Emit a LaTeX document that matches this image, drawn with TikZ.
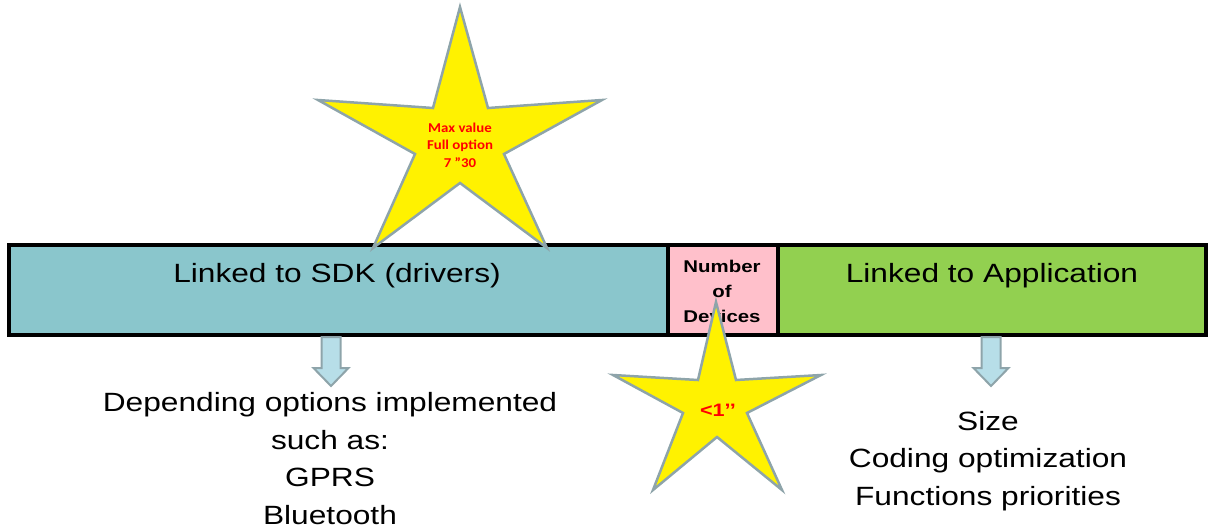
\documentclass[tikz,border=0pt]{standalone}
\usepackage{fontspec}
\setmainfont{Liberation Sans}
\newfontfamily\widefont[FakeStretch=1.2]{Liberation Sans}
\newfontfamily\starfont[FakeStretch=1.1]{Carlito}

\definecolor{sdkblue}{RGB}{138,198,204}
\definecolor{devpink}{RGB}{255,192,203}
\definecolor{appgreen}{RGB}{146,208,80}
\definecolor{starline}{RGB}{142,164,170}
\definecolor{arrowblue}{RGB}{183,222,232}

\tikzset{
  bar/.style={draw=black, line width=4pt},
  bartext/.style={font=\widefont\fontsize{26.4}{30}\selectfont, inner sep=0pt, anchor=base},
  devtext/.style={font=\widefont\bfseries\fontsize{17}{25}\selectfont, align=center, inner sep=0pt, anchor=north},
  desc/.style={font=\widefont\fontsize{26.4}{37.7}\selectfont, align=center, inner sep=0pt, anchor=north},
  downarrow/.style={draw=starline, fill=arrowblue, line width=2pt, line join=miter},
  starfill/.style={draw=starline, fill=yellow, line width=2.5pt, line join=miter},
  startext/.style={text=red, align=center, inner sep=0pt},
}

\begin{document}
\begin{tikzpicture}[x=1pt, y=-1pt]
  \useasboundingbox (0,0) rectangle (1208,531);

  % the bar
  \draw[bar, fill=sdkblue] (9,245) rectangle (667.5,335);
  \draw[bar, fill=devpink] (667.5,245) rectangle (778,335);
  \draw[bar, fill=appgreen] (778,245) rectangle (1206,335);

  \node[bartext] (sdk) at (337,282) {Linked to SDK (drivers)};
  \node[bartext] (app) at (992,282) {Linked to Application};
  \node[devtext] (dev) at (722,259.6) {Number\\of\\Devices};

  % arrows down to the descriptions
  \coordinate (sdkarrow) at (331,337);
  \coordinate (apparrow) at (991,337);
  \draw[downarrow] (sdkarrow) ++(-9.5,0) -- ++(0,31) -- ++(-8,0) -- ++(17.5,18) -- ++(17.5,-18) -- ++(-8,0) -- ++(0,-31) -- cycle;
  \draw[downarrow] (apparrow) ++(-9.5,0) -- ++(0,31) -- ++(-8,0) -- ++(17.5,18) -- ++(17.5,-18) -- ++(-8,0) -- ++(0,-31) -- cycle;

  \node[desc] (sdkdesc) at (330,392) {Depending options implemented\\such as:\\GPRS\\Bluetooth};
  \node[desc] (appdesc) at (988,410.7) {Size\\Coding optimization\\Functions priorities};

  % stars
  \draw[starfill] (460,7) -- (488,108) -- (602,100) -- (504,154) -- (547,248) -- (460,183)
    -- (373,248) -- (415,154) -- (318,100) -- (433,108) -- cycle;
  \node[startext, anchor=north, font=\starfont\bfseries\fontsize{13.5}{17.7}\selectfont] (maxval) at (460,122.5) {Max value\\Full option\\7 ”30};

  \draw[starfill] (716,302) -- (736,380) -- (821,375) -- (747,413) -- (782,490) -- (717,437)
    -- (653,490) -- (683,413) -- (613,375) -- (698,380) -- cycle;
  \node[startext, anchor=base, font=\widefont\bfseries\fontsize{18}{20}\selectfont] (lessone) at (718,416) {<1’’};
\end{tikzpicture}
\end{document}
